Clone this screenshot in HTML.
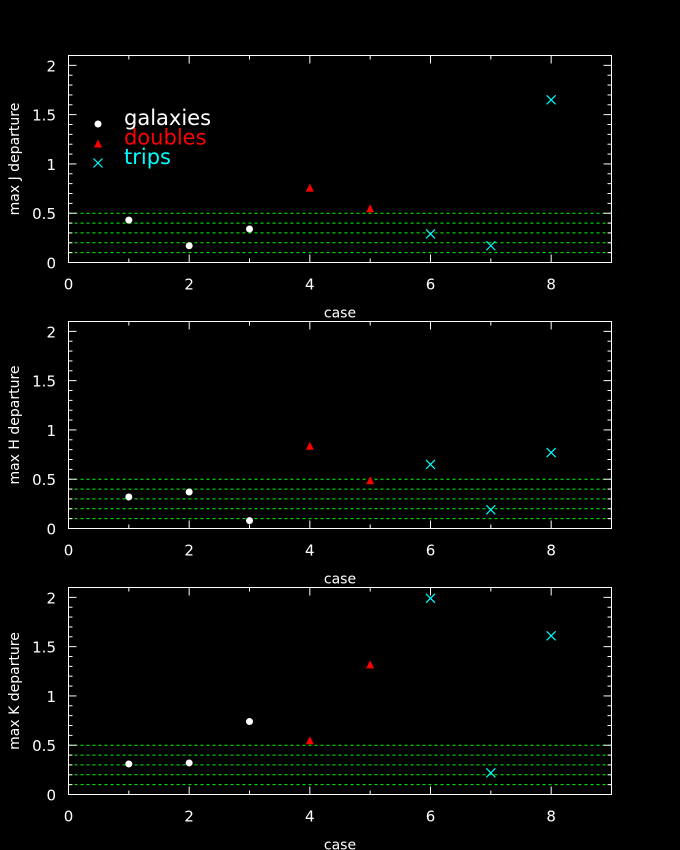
<!DOCTYPE html>
<html><head><meta charset="utf-8">
<style>
html,body{margin:0;padding:0;background:#000;}
svg{display:block;}
text{font-family:"DejaVu Sans","Liberation Sans",sans-serif;}
</style></head>
<body>
<svg id="chart" width="680" height="850" viewBox="0 0 680 850" xmlns="http://www.w3.org/2000/svg"></svg>
<script>
const panelTitles = ["max J departure","max H departure","max K departure"];
const galaxyCases = [1,2,3];
const doubleCases = [4,5];
const tripCases = [6,7,8];
const galaxiesJ = [0.43,0.17,0.34];
const doublesJ = [0.76,0.55];
const tripsJ = [0.29,0.17,1.65];
const galaxiesH = [0.32,0.37,0.08];
const doublesH = [0.84,0.49];
const tripsH = [0.65,0.19,0.77];
const galaxiesK = [0.31,0.32,0.74];
const doublesK = [0.55,1.32];
const tripsK = [1.99,0.22,1.61];
const xTickLabels = ["0","2","4","6","8"];
const yTickLabels = ["0","0.5","1","1.5","2"];
const refLevels = [0.1,0.2,0.3,0.4,0.5];
const legendLabels = ["galaxies","doubles","trips"];

const NS="http://www.w3.org/2000/svg";
const svg=document.getElementById('chart');
const X0=68.5,X1=611.5,XMAX=9,YMAX=2.1;
const panelTops=[55.5,321.5,587.5];
const PH=207;
function sx(v){return X0+(X1-X0)*v/XMAX;}
function mk(tag,attrs,parent){const e=document.createElementNS(NS,tag);for(const k in attrs)e.setAttribute(k,attrs[k]);(parent||svg).appendChild(e);return e;}

const series=[[galaxiesJ,doublesJ,tripsJ],[galaxiesH,doublesH,tripsH],[galaxiesK,doublesK,tripsK]];

panelTitles.forEach((title,pi)=>{
  const top=panelTops[pi],bot=top+PH;
  const sy=v=>bot-PH*v/YMAX;
  const g=mk('g',{});
  
  
  // reference lines
  refLevels.forEach(l=>{
    const ln=mk('line',{x1:X0,x2:X1,y1:sy(l),y2:sy(l),stroke:'#00ff00','stroke-width':1,'stroke-dasharray':'3,3'},g);
    
    
  });
  // frame
  const fr=mk('rect',{x:X0,y:top,width:X1-X0,height:PH,fill:'none',stroke:'#fff','stroke-width':1},g);
  
  
  // x ticks
  for(let i=1;i<=8;i++){
    const len=(i%2===0)?8:4;
    mk('line',{x1:sx(i),x2:sx(i),y1:bot,y2:bot-len,stroke:'#fff'},g);
    mk('line',{x1:sx(i),x2:sx(i),y1:top,y2:top+len,stroke:'#fff'},g);
  }
  xTickLabels.forEach(t=>{
    const tx=mk('text',{x:sx(+t),y:bot+27,fill:'#fff','font-size':15,'text-anchor':'middle'},g);
    tx.textContent=t;
    
    
  });
  // y ticks
  for(let i=1;i<=21;i++){
    const v=i/10,len=(i%5===0)?8:4;
    mk('line',{x1:X0,x2:X0+len,y1:sy(v),y2:sy(v),stroke:'#fff'},g);
    mk('line',{x1:X1,x2:X1-len,y1:sy(v),y2:sy(v),stroke:'#fff'},g);
  }
  yTickLabels.forEach(t=>{
    const ty=mk('text',{x:56,y:sy(+t)+6,fill:'#fff','font-size':15,'text-anchor':'end'},g);
    ty.textContent=t;
    
    
  });
  const xt=mk('text',{x:340,y:bot+55,fill:'#fff','font-size':14,'text-anchor':'middle'},g);
  xt.textContent='case';
  
  
  const yt=mk('text',{x:0,y:0,fill:'#fff','font-size':14,'text-anchor':'middle',transform:`translate(19,${(top+bot)/2}) rotate(-90)`},g);
  yt.textContent=title;
  
  
  // points
  const [gv,dv,tv]=series[pi];
  gv.forEach((v,i)=>{
    const c=mk('circle',{cx:sx(galaxyCases[i]),cy:sy(v),r:3.5,fill:'#fff'},g);
    
    
  });
  dv.forEach((v,i)=>{
    const x=sx(doubleCases[i]),y=sy(v);
    const p=mk('polygon',{points:`${x-4},${y+4} ${x+4},${y+4} ${x},${y-4}`,fill:'#ff0000'},g);
    
    
  });
  tv.forEach((v,i)=>{
    const x=sx(tripCases[i]),y=sy(v);
    const p=mk('path',{d:`M${x-4.5},${y-4.5}L${x+4.5},${y+4.5}M${x-4.5},${y+4.5}L${x+4.5},${y-4.5}`,stroke:'#00ffff','stroke-width':1.2,fill:'none'},g);
    
    
  });
});

// legend
const legColors=['#fff','#ff0000','#00ffff'];
const lg=mk('g',{});


legendLabels.forEach((lab,i)=>{
  const y=124+i*19.5;
  const x=98;
  if(i===0){mk('circle',{cx:x,cy:y,r:3.5,fill:'#fff'},lg);}
  else if(i===1){mk('polygon',{points:`${x-4},${y+4} ${x+4},${y+4} ${x},${y-4}`,fill:'#ff0000'},lg);}
  else{mk('path',{d:`M${x-4.5},${y-4.5}L${x+4.5},${y+4.5}M${x-4.5},${y+4.5}L${x+4.5},${y-4.5}`,stroke:'#00ffff','stroke-width':1.2},lg);}
  const t=mk('text',{x:124,y:y+1,fill:legColors[i],'font-size':21},lg);
  t.textContent=lab;
  
  
});
</script>
</body></html>
